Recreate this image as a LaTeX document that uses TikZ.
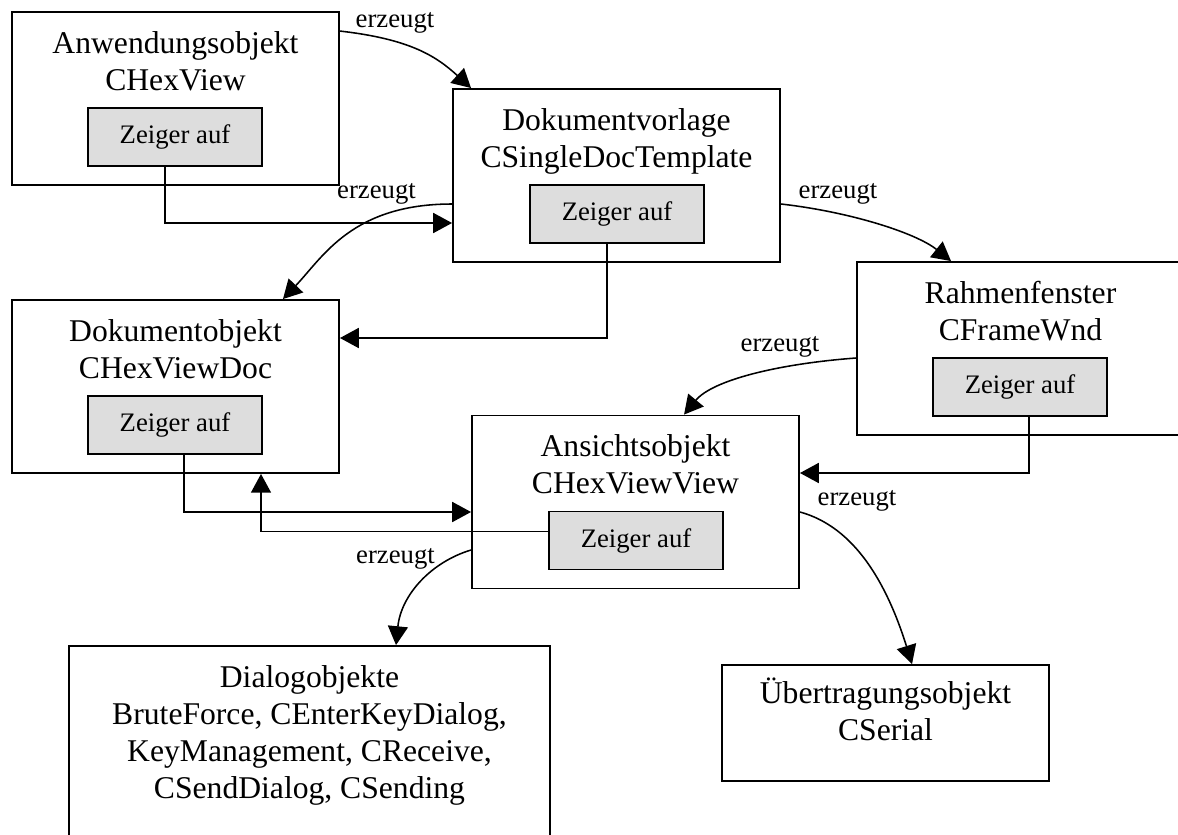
\documentclass[tikz,border=0pt]{standalone}
\usepackage{fontspec}
\setmainfont{Liberation Serif}
\usetikzlibrary{positioning,calc,arrows.meta}
\definecolor{ptrgray}{RGB}{221,221,221}

\begin{document}
\begin{tikzpicture}[
    x=0.025cm, y=-0.025cm,
    >={Triangle[length=0.47cm,width=0.5cm]},
    obj/.style={draw, line width=1.3pt, rectangle, minimum width=8.175cm, minimum height=4.325cm, inner sep=0pt},
    title/.style={align=center, inner sep=0pt, font=\fontsize{22.5}{26.3}\selectfont},
    ptr/.style={draw, line width=1.2pt, fill=ptrgray, minimum width=4.35cm, minimum height=1.45cm, inner sep=0pt, font=\fontsize{19}{23}\selectfont},
    lbl/.style={inner sep=0pt, font=\fontsize{19}{23}\selectfont},
    conn/.style={->, line width=1.1pt}
]
\clip (0,0) rectangle (1178,835);

% Objects
\node[obj] (app) at (175.5,98.5) {};
\node[obj] (tpl) at (616.5,175.5) {};
\node[obj] (frame) at (1020.5,348.5) {};
\node[obj] (doc) at (175.5,386.5) {};
\node[obj] (view) at (635.5,502) {};
\node[obj, minimum width=12.025cm, minimum height=5.5cm] (dlg) at (309.5,756) {};
\node[obj, minimum height=2.9cm] (ser) at (885.5,723) {};

% Titles
\node[title, below=0.5cm of app.north] (appT) {Anwendungsobjekt\\CHexView};
\node[title, below=0.5cm of tpl.north] (tplT) {Dokumentvorlage\\CSingleDocTemplate};
\node[title, below=0.5cm of frame.north] (frameT) {Rahmenfenster\\CFrameWnd};
\node[title, below=0.5cm of doc.north] (docT) {Dokumentobjekt\\CHexViewDoc};
\node[title, below=0.5cm of view.north] (viewT) {Ansichtsobjekt\\CHexViewView};
\node[title, below=0.5cm of dlg.north] (dlgT) {Dialogobjekte\\BruteForce, CEnterKeyDialog,\\KeyManagement, CReceive,\\CSendDialog, CSending};
\node[title, below=0.35cm of ser.north] (serT) {Übertragungsobjekt\\CSerial};

% Pointer boxes
\node[ptr] (p1) at (175,137) {Zeiger auf};
\node[ptr] (p2) at (617,214) {Zeiger auf};
\node[ptr] (p3) at (1020,387) {Zeiger auf};
\node[ptr] (p4) at (175,425) {Zeiger auf};
\node[ptr] (p5) at (636,540.5) {Zeiger auf};

% Labels
\node[lbl] (e1) at (395,23) {erzeugt};
\node[lbl] (e2) at (376.5,194) {erzeugt};
\node[lbl] (e3) at (838,194) {erzeugt};
\node[lbl] (e4) at (780,347) {erzeugt};
\node[lbl] (e5) at (857,501) {erzeugt};
\node[lbl] (e6) at (395.5,559) {erzeugt};

% Connections (erzeugt)
\draw[conn] ($(app.north east)+(0,20)$) .. controls +(70,8) and +(-35,-32) .. ($(tpl.north west)+(19,0)$);
\draw[conn] ($(tpl.west)+(0,28.5)$) .. controls +(-100,0) and +(40,-42) .. ($(doc.north east)+(-57,0)$);
\draw[conn] ($(tpl.east)+(0,28.5)$) .. controls +(70,8) and +(-35,-28) .. ($(frame.north west)+(95,0)$);
\draw[conn] ($(frame.west)+(0,9.5)$) .. controls +(-80,6) and +(28,-34) .. ($(view.north west)+(213,0)$);
\draw[conn] ($(view.east)+(0,10)$) .. controls +(55,15) and +(-25,-80) .. ($(ser.north west)+(191,0)$);
\draw[conn] ($(view.west)+(0,48)$) .. controls +(-40,12) and +(5,-50) .. ($(dlg.north west)+(328,0)$);

% Connections (Zeiger)
\draw[conn] ($(p1.south)+(-10,0)$) |- ($(tpl.west)+(0,47.5)$);
\draw[conn] ($(p2.south)+(-10,0)$) |- ($(doc.east)+(0,-48.5)$);
\draw[conn] ($(p3.south)+(9,0)$) |- ($(view.east)+(0,-29)$);
\draw[conn] ($(p4.south)+(9,0)$) |- ($(view.west)+(0,10)$);
\draw[conn] ($(p5.west)+(0,-9)$) -| ($(doc.south)+(85.5,0)$);

\end{tikzpicture}
\end{document}
